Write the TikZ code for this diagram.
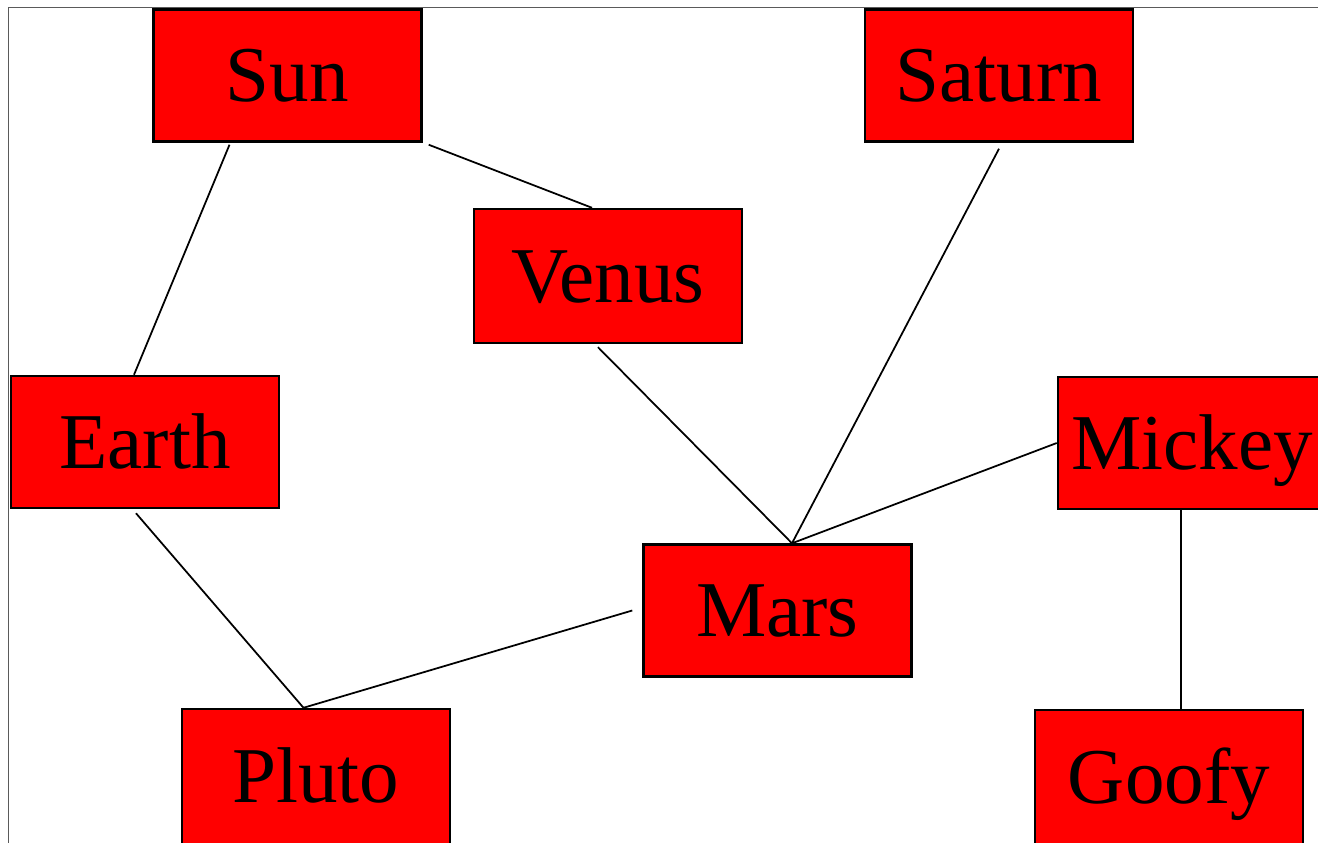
\documentclass[tikz,border=0pt]{standalone}
\usepackage{fontspec}
\setmainfont{Liberation Serif}
\definecolor{frame}{RGB}{90,90,90}
\tikzset{
  box/.style={draw=black,fill=red,line width=0.7pt,inner sep=0pt,
    minimum width=26.8mm,minimum height=13.2mm,
    font=\fontsize{22.5}{27}\selectfont,text height=15pt,text depth=0pt},
  link/.style={draw=black,line width=0.5pt},
}
\begin{document}
\begin{tikzpicture}
    \useasboundingbox (0,0) rectangle (13.18,-8.42);
    \clip (0,0) rectangle (13.18,-8.42);
    \fill[white] (0,0) rectangle (13.18,-8.42);
    \draw[frame,line width=0.4pt] (0.083,-0.073) rectangle (13.6,-8.8);
    % nodes
    \node[box] (sun) at (2.875,-0.755) {Sun};
    \node[box] (saturn) at (9.99,-0.755) {Saturn};
    \node[box,minimum height=13.4mm] (venus) at (6.08,-2.76) {Venus};
    \node[box] (earth) at (1.45,-4.42) {Earth};
    \node[box] (mickey) at (11.92,-4.43) {Mickey};
    \node[box] (mars) at (7.775,-6.105) {Mars};
    \node[box,minimum height=13.5mm] (pluto) at (3.16,-7.765) {Pluto};
    \node[box,minimum height=13.5mm] (goofy) at (11.69,-7.775) {Goofy};
    % links
    \draw[link] ([xshift=-5.8mm,yshift=-0.2mm]sun.south) -- ([xshift=-1.1mm]earth.north);
    \draw[link] ([xshift=0.6mm,yshift=-0.2mm]sun.south east) -- ([xshift=-1.6mm]venus.north);
    \draw[link] ([yshift=-0.6mm]saturn.south) -- ([xshift=1.45mm]mars.north);
    \draw[link] ([xshift=-1mm,yshift=-0.3mm]venus.south) -- ([xshift=1.45mm]mars.north);
    \draw[link] (mickey.west) -- ([xshift=1.45mm]mars.north);
    \draw[link] ([xshift=-1.1mm]mickey.south) -- ([xshift=1.2mm]goofy.north);
    \draw[link] ([xshift=-0.9mm,yshift=-0.4mm]earth.south) -- ([xshift=-1.25mm]pluto.north);
    \draw[link] ([xshift=-1mm]mars.west) -- ([xshift=-1.25mm]pluto.north);
\end{tikzpicture}
\end{document}
